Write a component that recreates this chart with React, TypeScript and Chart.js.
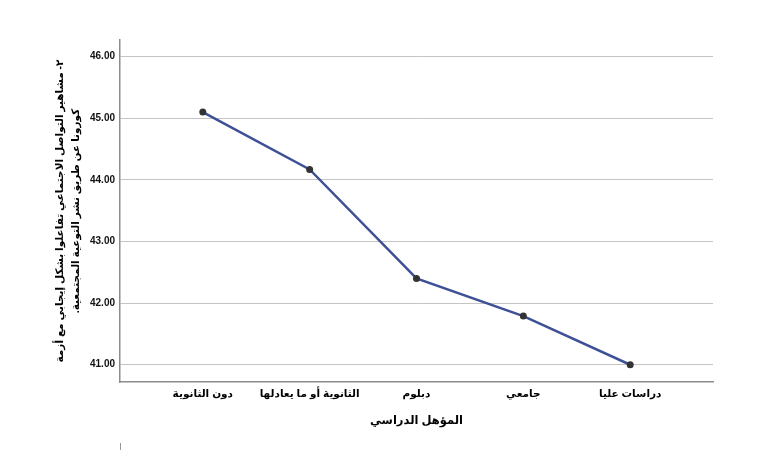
import React, { useEffect, useRef } from 'react';
import { Chart, registerables } from 'chart.js';

Chart.register(...registerables);

// education level categories (x axis)
const categories = ['دون الثانوية', 'الثانوية أو ما يعادلها', 'دبلوم', 'جامعي', 'دراسات عليا'];
// mean score per category
const means = [45.1, 44.17, 42.4, 41.79, 41.0];
// y axis tick values
const yTicks = [41, 42, 43, 44, 45, 46];

const xTitle = 'المؤهل الدراسي';
const yTitle = [
  '٢- مشاهير التواصل الاجتماعي تفاعلوا بشكل إيجابي مع أزمة',
  'كورونا عن طريق نشر التوعية المجتمعية.',
];

const FONT = 'Arial, "Liberation Sans", "DejaVu Sans", sans-serif';

const App: React.FC = () => {
  const canvasRef = useRef<HTMLCanvasElement>(null);
  const chartRef = useRef<Chart | null>(null);

  useEffect(() => {
    if (!canvasRef.current) return;
    const existing = Chart.getChart(canvasRef.current);
    if (existing) existing.destroy();

    chartRef.current = new Chart(canvasRef.current, {
      type: 'line',
      data: {
        datasets: [
          {
            data: means.map((v, i) => ({ x: i, y: v })),
            borderColor: '#3f5196',
            borderWidth: 2.5,
            pointRadius: 3.5,
            pointBackgroundColor: '#333333',
            pointBorderColor: '#333333',
            pointBorderWidth: 0,
            tension: 0,
            fill: false,
          },
        ],
      },
      options: {
        animation: false,
        responsive: true,
        maintainAspectRatio: false,
        layout: { padding: { left: 0, right: 57, top: 40, bottom: 18 } },
        plugins: {
          legend: { display: false },
          tooltip: { enabled: false },
        },
        scales: {
          x: {
            type: 'linear',
            min: -0.775,
            max: 4.775,
            afterBuildTicks: (axis: any) => {
              axis.ticks = categories.map((_, i) => ({ value: i }));
            },
            afterFit: (axis: any) => {
              axis.height = 50;
            },
            grid: { display: false, drawTicks: false },
            border: { display: true, color: '#8c8c8c', width: 1.5 },
            ticks: {
              padding: 6,
              maxRotation: 0,
              autoSkip: false,
              color: '#000',
              font: { family: FONT, size: 10.5, weight: 'bold' },
              callback: (v: any) => categories[v as number] ?? '',
            },
            title: {
              display: true,
              text: xTitle,
              color: '#000',
              font: { family: FONT, size: 11.5, weight: 'bold' },
              padding: { top: 0, bottom: 4 },
            },
          },
          y: {
            type: 'linear',
            min: 40.72,
            max: 46.27,
            afterBuildTicks: (axis: any) => {
              axis.ticks = yTicks.map((v) => ({ value: v }));
            },
            afterFit: (axis: any) => {
              axis.width = 120;
            },
            grid: { color: '#c4c4c4', lineWidth: 1, drawTicks: false },
            border: { display: true, color: '#8c8c8c', width: 1.5 },
            ticks: {
              padding: 5,
              color: '#111',
              font: { family: FONT, size: 10, weight: 'bold' },
              callback: (v: any) => Number(v).toFixed(2),
            },
            title: {
              display: true,
              text: yTitle,
              color: '#000',
              font: { family: FONT, size: 10.5, weight: 'bold', lineHeight: 1.5 },
              padding: { top: 52, bottom: 0 },
            },
          },
        },
      },
    });

    return () => {
      if (chartRef.current) {
        chartRef.current.destroy();
        chartRef.current = null;
      }
    };
  }, []);

  return (
    <div style={{ position: 'fixed', left: 0, top: 0, width: 770, height: 450, background: '#fff' }}>
      <canvas ref={canvasRef} dir="rtl" />
      <div style={{ position: 'absolute', left: 120, top: 443, width: 1, height: 7, background: '#999' }} />
    </div>
  );
};

export default App;
